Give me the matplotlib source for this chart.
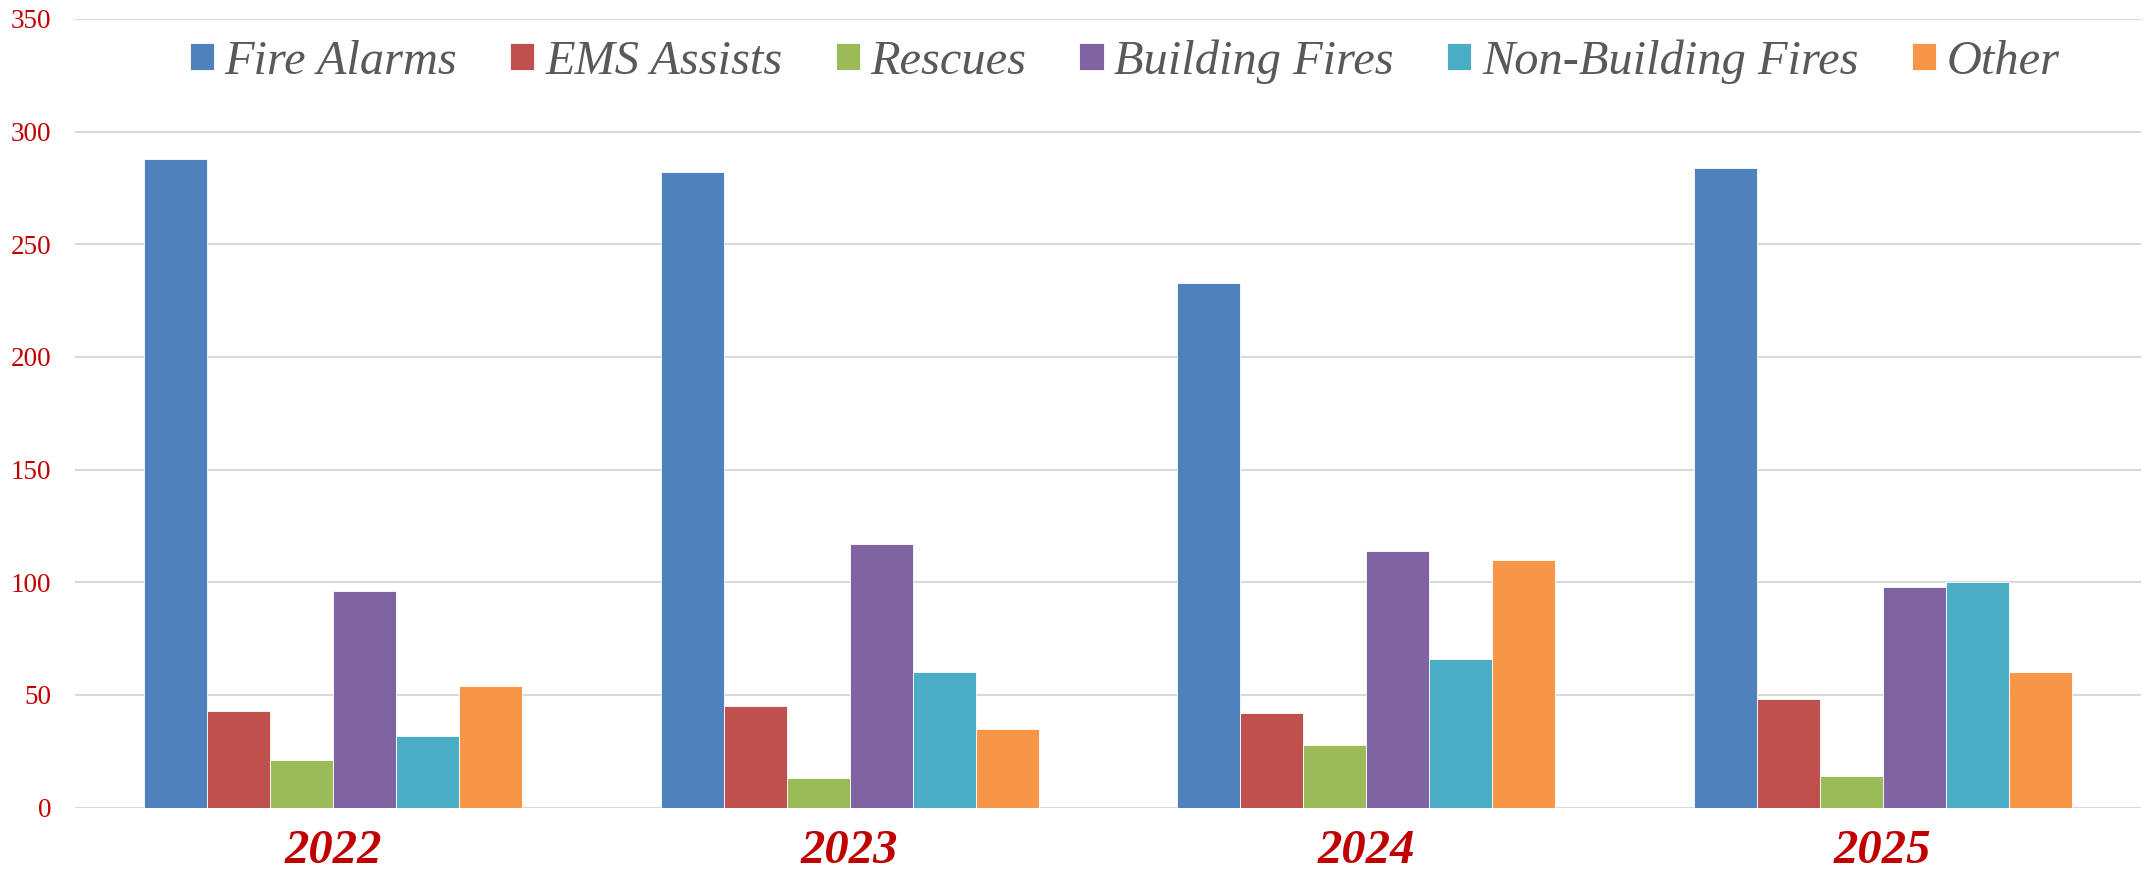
import matplotlib
matplotlib.use("Agg")
import matplotlib.pyplot as plt
import numpy as np

years = ["2022", "2023", "2024", "2025"]
categories = ["Fire Alarms", "EMS Assists", "Rescues", "Building Fires",
              "Non-Building Fires", "Other"]

fire_alarms = [288, 282, 233, 284]
ems_assists = [43, 45, 42, 48]
rescues = [21, 13, 28, 14]
building_fires = [96, 117, 114, 98]
non_building_fires = [32, 60, 66, 100]
other = [54, 35, 110, 60]

series = [fire_alarms, ems_assists, rescues, building_fires,
          non_building_fires, other]
colors = ["#4F81BD", "#C0504D", "#9BBB59", "#8064A2", "#4BACC6", "#F79646"]

fig = plt.figure(figsize=(21.48, 8.71), dpi=100)
ax = fig.add_axes([0.0349, 0.0727, 0.9618, 0.9057])

x = np.arange(len(years))
width = 0.122
for i, (vals, col, name) in enumerate(zip(series, colors, categories)):
    ax.bar(x + (i - 2.5) * width, vals, width, color=col, label=name,
           edgecolor="white", linewidth=0.6, zorder=3)

ax.set_xlim(-0.5, 3.5)
ax.set_ylim(0, 350)
ax.set_yticks(range(0, 351, 50))
ax.grid(axis="y", color="#D9D9D9", linewidth=1.5, zorder=0)
for s in ax.spines.values():
    s.set_visible(False)
ax.tick_params(axis="both", length=0)
ax.tick_params(axis="y", pad=17)
ax.tick_params(axis="x", pad=15)

ax.set_xticks(x)
ax.set_xticklabels(years, family="Liberation Serif", style="italic",
                   weight="bold", size=35, color="#C00000")
for lab in ax.get_yticklabels():
    lab.set_family("Liberation Serif")
    lab.set_fontsize(19.5)
    lab.set_color("#C00000")

leg = ax.legend(loc="center", bbox_to_anchor=(0.508, 0.946), ncol=6,
                frameon=False, handlelength=0.5, handleheight=0.5,
                handletextpad=0.22, columnspacing=1.1,
                prop={"family": "Liberation Serif", "style": "italic",
                      "size": 34.8})
for t in leg.get_texts():
    t.set_color("#595959")

fig.savefig("out.png", dpi=100)
